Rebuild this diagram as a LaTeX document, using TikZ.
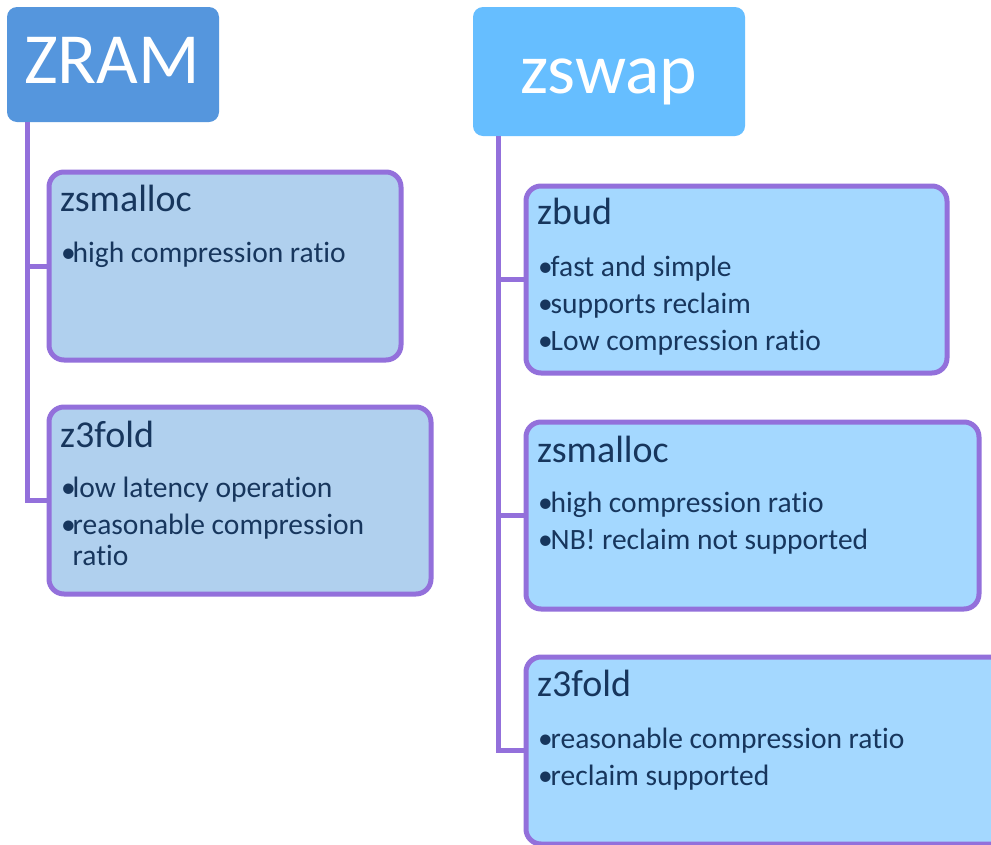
\documentclass[tikz,border=0pt]{standalone}
\usepackage{fontspec}
\setmainfont[Ligatures=NoCommon]{Carlito}
\definecolor{linec}{HTML}{9370DB}
\definecolor{zramc}{HTML}{5596DD}
\definecolor{zswapc}{HTML}{66BEFF}
\definecolor{lboxc}{HTML}{B0D0EE}
\definecolor{rboxc}{HTML}{A4D8FF}
\definecolor{textc}{HTML}{17365D}
\newcommand\bulL{\makebox[11.5pt][l]{•}}
\newcommand\bulR{\makebox[12.5pt][l]{•}}
\begin{document}
\begin{tikzpicture}[x=1pt,y=-1pt,
  headbox/.style={rectangle,rounded corners=10pt,anchor=north west,inner sep=0pt,outer sep=0pt},
  itembox/.style={rectangle,rounded corners=15pt,draw=linec,line width=5pt,anchor=north west,inner sep=0pt,outer sep=0pt},
  conn/.style={draw=linec,line width=5pt},
  ttl/.style={anchor=base west,inner sep=0pt,text=textc,font=\fontsize{38}{46}\selectfont},
  itm/.style={anchor=base west,inner sep=0pt,text=textc,font=\fontsize{29.5}{36}\selectfont},
  head/.style={anchor=base west,inner sep=0pt,text=white}]
\clip (0,0) rectangle (991,844);
\fill[white] (0,0) rectangle (991,844);
% head boxes
\node[headbox,fill=zramc,minimum width=212pt,minimum height=115pt] (zram) at (7,7) {};
\node[headbox,fill=zswapc,minimum width=272pt,minimum height=129pt] (zswap) at (473,7) {};
\node[head,font=\fontsize{72}{80}\selectfont] (zramt) at (24,83) {ZRAM};
\node[head,font=\fontsize{71.5}{80}\selectfont] (zswapt) at (520,93) {zswap};
% item boxes
\node[itembox,fill=lboxc,minimum width=352pt,minimum height=188pt] (zsL) at (49,172) {};
\node[itembox,fill=lboxc,minimum width=382pt,minimum height=187pt] (z3L) at (49,407) {};
\node[itembox,fill=rboxc,minimum width=421pt,minimum height=187pt] (zbR) at (526,186) {};
\node[itembox,fill=rboxc,minimum width=453pt,minimum height=187pt] (zsR) at (526,422) {};
\node[itembox,fill=rboxc,minimum width=500pt,minimum height=187pt] (z3R) at (526,657) {};
% connectors
\coordinate (tL) at (27,122);
\coordinate (tR) at (498,136);
\draw[conn] (tL) |- (zsL.west);
\draw[conn] (tL) |- (z3L.west);
\draw[conn] (tR) |- (zbR.west);
\draw[conn] (tR) |- (zsR.west);
\draw[conn] (tR) |- (z3R.west);
% texts left
\node[ttl] (zsLt) at (60,211) {zsmalloc};
\node[itm] (zsLa) at (61,262) {\bulL high compression ratio};
\node[ttl] (z3Lt) at (60,447) {z3fold};
\node[itm] (z3La) at (61,497) {\bulL low latency operation};
\node[itm] (z3Lb) at (61,534) {\bulL reasonable compression};
\node[itm] (z3Lc) at (72.5,565) {ratio};
% texts right
\node[ttl] (zbRt) at (537,224) {zbud};
\node[itm] (zbRa) at (538,276) {\bulR fast and simple};
\node[itm] (zbRb) at (538,313) {\bulR supports reclaim};
\node[itm] (zbRc) at (538,350) {\bulR Low compression ratio};
\node[ttl] (zsRt) at (537,462) {zsmalloc};
\node[itm] (zsRa) at (538,512) {\bulR high compression ratio};
\node[itm] (zsRb) at (538,549) {\bulR NB! reclaim not supported};
\node[ttl] (z3Rt) at (537,696) {z3fold};
\node[itm] (z3Ra) at (538,748) {\bulR reasonable compression ratio};
\node[itm] (z3Rb) at (538,785) {\bulR reclaim supported};
\end{tikzpicture}
\end{document}
